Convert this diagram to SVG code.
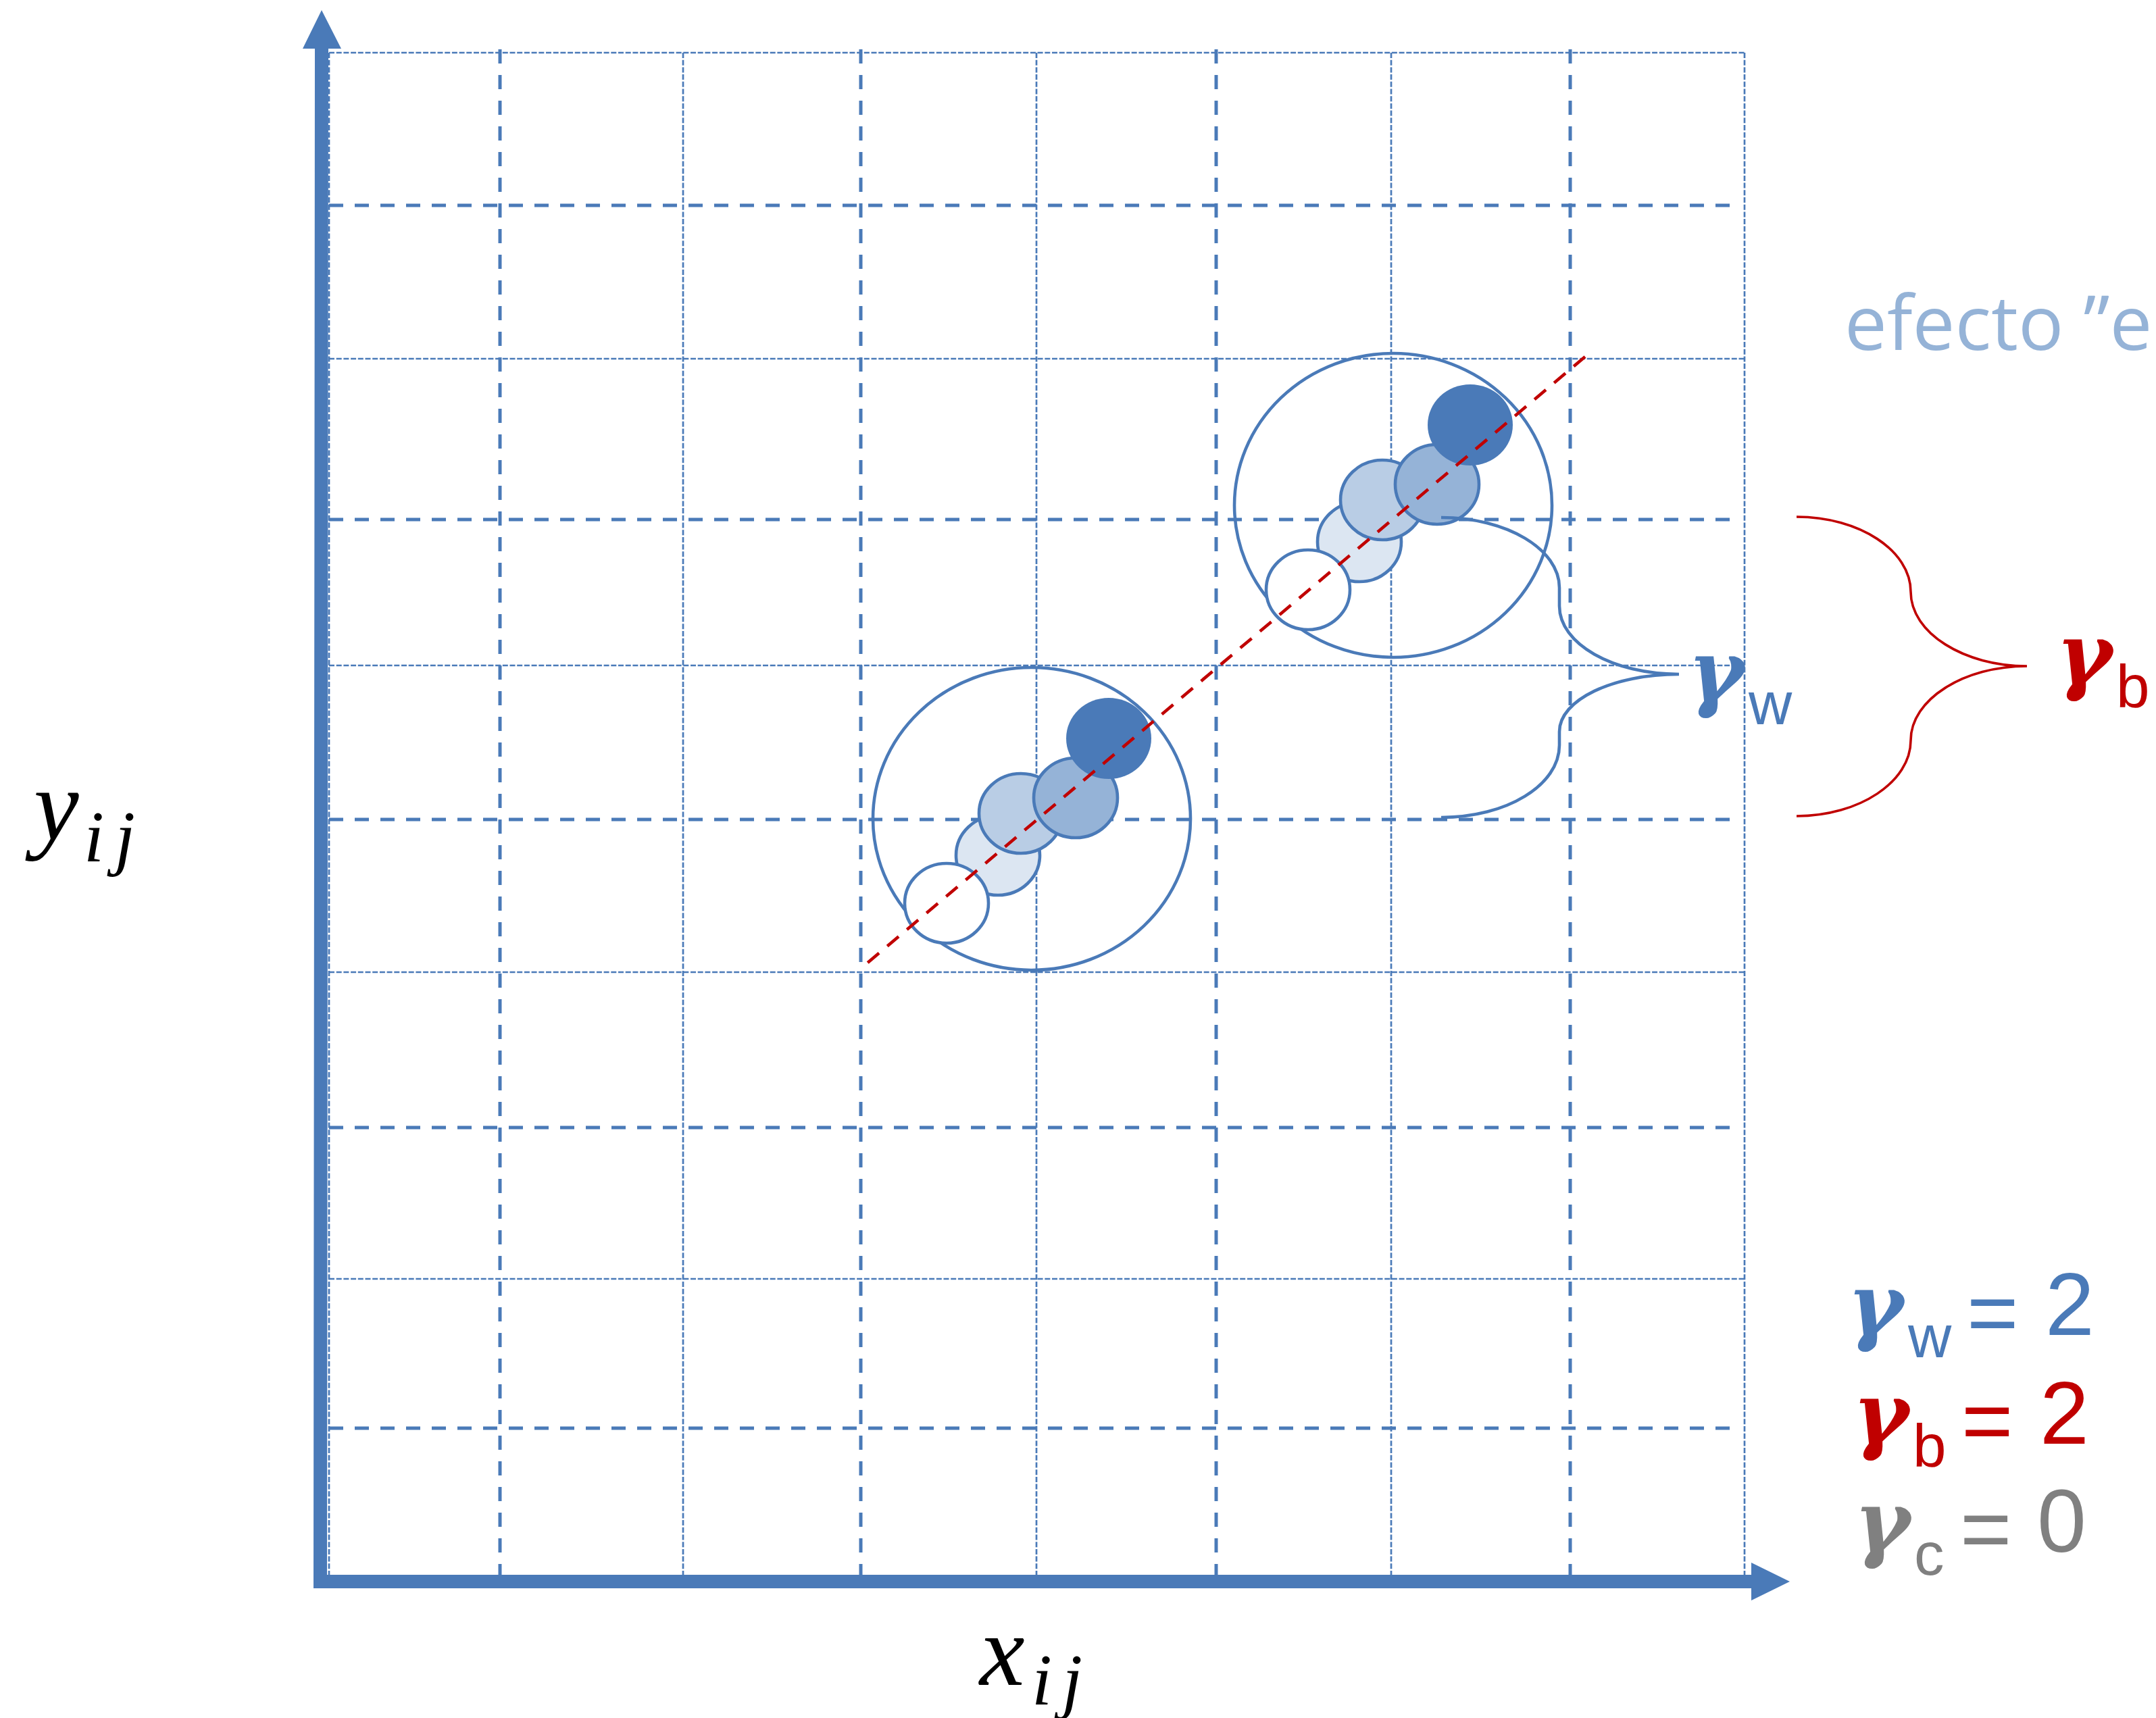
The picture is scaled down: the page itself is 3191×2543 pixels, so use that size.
<svg xmlns="http://www.w3.org/2000/svg" width="3191" height="2543" viewBox="0 0 3191 2543">
<defs>
<style>
.thin{stroke:#4a7ab8;stroke-width:2.7;stroke-dasharray:8 2.7;fill:none}
.thick{stroke:#4a7ab8;stroke-width:5;stroke-dasharray:21 17;fill:none}
.ring{fill:none;stroke:#4a7ab8;stroke-width:4.6}
.dot{stroke:#4a7ab8;stroke-width:4.6}
.brace-b{fill:none;stroke:#4a7ab8;stroke-width:4.6}
.brace-r{fill:none;stroke:#c00000;stroke-width:3.6}
.gam{font-family:"DejaVu Serif",serif;font-style:italic;font-weight:bold;font-size:126px}
.sub{font-family:"Liberation Sans",Arial,sans-serif;font-size:89px}
.num{font-family:"Liberation Sans",Arial,sans-serif;font-size:131px}
.math{font-family:"Liberation Serif",serif;font-style:italic;fill:#000}
</style>
<g id="cluster">
<ellipse class="dot" cx="1477" cy="1266" rx="62" ry="59" fill="#dce6f2"/>
<ellipse class="dot" cx="1401" cy="1337" rx="62" ry="59" fill="#ffffff"/>
<ellipse class="dot" cx="1511" cy="1204" rx="62" ry="59" fill="#b9cde5"/>
<ellipse class="dot" cx="1592" cy="1181" rx="62" ry="59" fill="#95b3d7"/>
<ellipse cx="1641" cy="1093" rx="63" ry="60" fill="#4a7ab8"/>
</g>
</defs>
<rect width="3191" height="2543" fill="#ffffff"/>

<g id="grid">
<line class="thin" x1="487" y1="78" x2="2582" y2="78"/>
<line class="thin" x1="487" y1="531" x2="2582" y2="531"/>
<line class="thin" x1="487" y1="985" x2="2582" y2="985"/>
<line class="thin" x1="487" y1="1439" x2="2582" y2="1439"/>
<line class="thin" x1="487" y1="1893" x2="2582" y2="1893"/>
<line class="thick" x1="487" y1="304" x2="2570" y2="304"/>
<line class="thick" x1="487" y1="769" x2="2570" y2="769"/>
<line class="thick" x1="487" y1="1213" x2="2570" y2="1213"/>
<line class="thick" x1="487" y1="1669" x2="2570" y2="1669"/>
<line class="thick" x1="487" y1="2114" x2="2570" y2="2114"/>
<line class="thin" x1="487" y1="78" x2="487" y2="2332"/>
<line class="thin" x1="1011" y1="78" x2="1011" y2="2332"/>
<line class="thin" x1="1534" y1="78" x2="1534" y2="2332"/>
<line class="thin" x1="2059" y1="78" x2="2059" y2="2332"/>
<line class="thin" x1="2582" y1="78" x2="2582" y2="2332"/>
<line class="thick" x1="740" y1="73" x2="740" y2="2332"/>
<line class="thick" x1="1274" y1="73" x2="1274" y2="2332"/>
<line class="thick" x1="1800" y1="73" x2="1800" y2="2332"/>
<line class="thick" x1="2324" y1="73" x2="2324" y2="2332"/>
</g>

<g id="axes" fill="#4a7ab8">
<polygon points="466,72 448,72 476,15 505,72 486,72 484,2351 464,2351"/>
<polygon points="464,2331 2592,2331 2592,2313 2649,2341 2592,2369 2592,2351 464,2351"/>
</g>

<g id="group-lower">
<ellipse class="ring" cx="1527" cy="1212" rx="235" ry="224"/>
<use href="#cluster"/>
</g>

<g id="group-upper">
<ellipse class="ring" cx="2062" cy="748" rx="235" ry="225"/>
<use href="#cluster" transform="translate(535,-464)"/>
</g>

<g id="connectors">
<line id="trend" x1="2346" y1="528" x2="1276" y2="1432" stroke="#c00000" stroke-width="4.6" stroke-dasharray="22 16"/>
<path id="brace-w" class="brace-b" d="M2133,766 C2230,766 2308,813 2308,870 L2308,897 C2308,953 2387,998 2485,998 C2387,998 2308,1036 2308,1083 L2308,1103 C2308,1162 2230,1210 2133,1210"/>
<path id="brace-bt" class="brace-r" d="M2659,765 C2752,765 2828,815 2828,876 C2828,937 2907,986 3000,986 C2907,986 2828,1035 2828,1096 C2828,1157 2752,1208 2659,1208"/>
</g>

<g id="label-efecto">
<text x="2730" y="518" font-family="'Open Sans',sans-serif" font-size="112" fill="#95b3d7">efecto ”e</text>
</g>

<g id="label-gw" fill="#4a7ab8">
<text class="gam" x="2498" y="1037">γ</text>
<text class="sub" x="2588" y="1072">w</text>
</g>

<g id="label-gb" fill="#c00000">
<text class="gam" x="3043" y="1012">γ</text>
<text class="sub" x="3132" y="1047">b</text>
</g>

<g id="legend">
<g fill="#4a7ab8">
<text class="gam" x="2734" y="1975">γ</text>
<text class="sub" x="2824" y="2009">w</text>
<text class="num" x="2911" y="1988">=</text>
<text class="num" x="3027" y="1976">2</text>
</g>
<g fill="#c00000">
<text class="gam" x="2742" y="2136">γ</text>
<text class="sub" x="2831" y="2171">b</text>
<text class="num" x="2903" y="2148">=</text>
<text class="num" x="3019" y="2137">2</text>
</g>
<g fill="#808080">
<text class="gam" x="2744" y="2296">γ</text>
<text class="sub" x="2833" y="2331">c</text>
<text class="num" x="2901" y="2308">=</text>
<text class="num" x="3015" y="2297">0</text>
</g>
</g>

<g id="label-y">
<text class="math" x="50" y="1243" font-size="150">y</text>
<text class="math" x="124" y="1275" font-size="108">i</text>
<text class="math" x="170" y="1275" font-size="108">j</text>
</g>

<g id="label-x">
<text class="math" x="1450" y="2494" font-size="150">x</text>
<text class="math" x="1527" y="2523" font-size="108">i</text>
<text class="math" x="1572" y="2523" font-size="108">j</text>
</g>
</svg>
